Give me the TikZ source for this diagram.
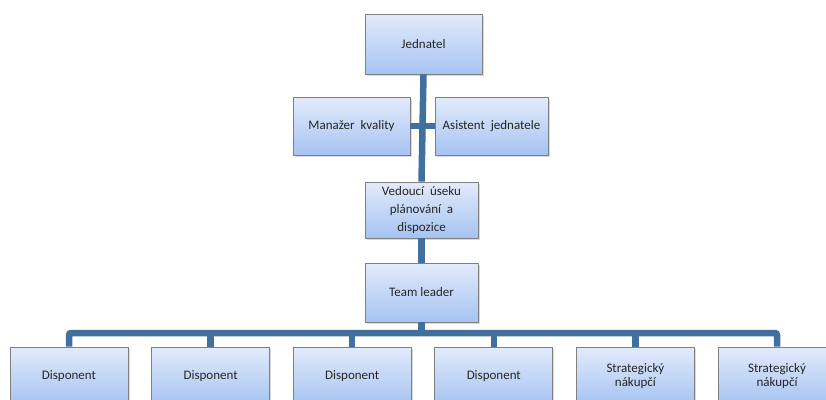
\documentclass[tikz,border=0pt]{standalone}
\usepackage{fontspec}
\setmainfont{Carlito}
\usetikzlibrary{shadows}
\definecolor{linkblue}{RGB}{66,112,158}
\definecolor{boxtop}{RGB}{226,235,251}
\definecolor{boxbottom}{RGB}{166,195,242}
\definecolor{boxline}{RGB}{128,128,128}
\begin{document}
\begin{tikzpicture}[x=1pt, y=-1pt,
  box/.style={rectangle, draw=boxline, line width=0.8pt, top color=boxtop, bottom color=boxbottom,
    minimum width=117pt, minimum height=58pt, inner sep=2pt, align=center,
    font=\fontsize{13}{18}\selectfont, text=black!85,
    drop shadow={shadow xshift=1.5pt, shadow yshift=-1.5pt, opacity=0.3}},
  conn/.style={draw=linkblue, line width=6.5pt, rounded corners=2pt}]

\clip (0,0) rectangle (826,399);

\draw (423.5,44) node (jednatel) [box, minimum height=60pt] {Jednatel};

\draw (351.5,126) node (kvalita) [box] {Manažer\ \ kvality};
\draw (491.5,126) node (asistent) [box, minimum width=113pt] {Asistent\ \ jednatele};

\draw (421.5,210) node (vedouci) [box, minimum width=113pt, minimum height=56pt] {Vedoucí\ \ úseku\\plánování\ \ a\\dispozice};

\draw (421.5,292.5) node (team) [box, minimum width=113pt, minimum height=59pt] {Team leader};

% spodni rada
\draw (69,376) node (d1) [box, minimum width=118pt] {Disponent};
\draw (210.6,376) node (d2) [box, minimum width=118pt] {Disponent};
\draw (352.2,376) node (d3) [box, minimum width=118pt] {Disponent};
\draw (493.8,376) node (d4) [box, minimum width=118pt] {Disponent};
\draw (635.4,376) node (n1) [box, minimum width=118pt, font=\fontsize{13}{14.5}\selectfont] {Strategický\\nákupčí};
\draw (777,376) node (n2) [box, minimum width=118pt, font=\fontsize{13}{14.5}\selectfont] {Strategický\\nákupčí};

\coordinate (bus) at (0,333);

\draw [conn] (jednatel.south) -- (vedouci.north);
\draw [conn] (kvalita.east) -- (asistent.west);
\draw [conn] (vedouci.south) -- (team.north);
\draw [conn] (team.south) -- (team.south |- bus);

\draw [conn] (d1.north) |- (bus -| n2.north) -- (n2.north);
\draw [conn] (d2.north) -- (d2.north |- bus);
\draw [conn] (d3.north) -- (d3.north |- bus);
\draw [conn] (d4.north) -- (d4.north |- bus);
\draw [conn] (n1.north) -- (n1.north |- bus);

\end{tikzpicture}
\end{document}
